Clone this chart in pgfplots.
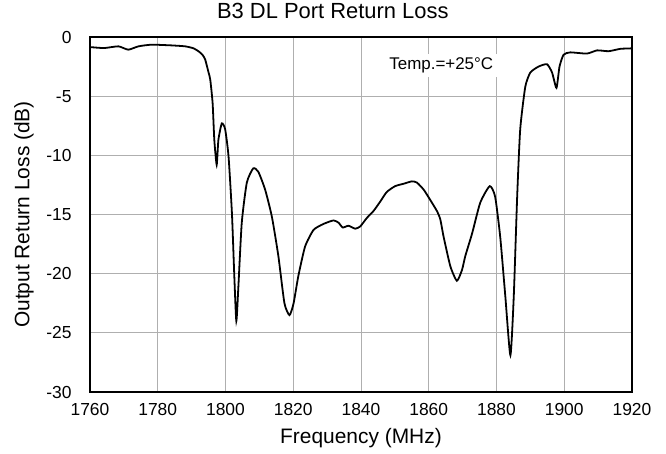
\documentclass[border=0pt]{standalone}
\usepackage{pgfplots}
\pgfplotsset{compat=1.18}
\usepackage{fontspec}
\setmainfont{Liberation Sans}
\pgfplotstableread{
x y
1760 -0.85
1762 -0.9
1764.4 -0.93
1768.4 -0.79
1771.3 -1.07
1774.3 -0.79
1778.2 -0.65
1784.1 -0.71
1788.1 -0.79
1790.5 -0.95
1792 -1.2
1793.2 -1.5
1794 -1.9
1795 -3.0
1795.5 -3.6
1796.2 -5.6
1796.7 -8.7
1797.4 -10.8
1797.9 -8.7
1798.9 -7.3
1799.9 -7.8
1800.9 -10.1
1801.9 -14.9
1802.6 -20.2
1803.2 -24.0
1803.8 -21.1
1804.8 -15.7
1806.3 -12.3
1808.2 -11.1
1809.7 -11.4
1811.7 -12.9
1813.7 -15.2
1815.6 -18.5
1817.4 -22.5
1818.9 -23.5
1820.1 -22.5
1821.5 -20.2
1823.5 -17.7
1826 -16.3
1828.9 -15.8
1831.9 -15.5
1833.4 -15.7
1834.6 -16.1
1836.3 -15.95
1838.3 -16.2
1839.8 -16.0
1841.7 -15.3
1843.7 -14.7
1845.7 -13.9
1847.6 -13.1
1850.1 -12.6
1852.6 -12.4
1855 -12.2
1856.5 -12.3
1858.5 -12.9
1860.4 -13.75
1862.4 -14.7
1863.4 -15.4
1864.4 -16.9
1866.4 -19.4
1868.3 -20.6
1869.8 -19.7
1870.8 -18.5
1872.8 -16.6
1875.2 -14.0
1878 -12.6
1879.6 -13.5
1881.1 -16.9
1882.6 -21.9
1884.1 -26.9
1885.1 -21.9
1886.1 -13.5
1887 -7.8
1888.5 -4.2
1890 -3.0
1892.4 -2.5
1894.9 -2.3
1896.4 -3.0
1897.7 -4.3
1898.6 -2.5
1899.8 -1.5
1901.8 -1.3
1906.7 -1.4
1909.7 -1.13
1913.1 -1.2
1916.6 -1.0
1920 -0.96
}\rldata
\definecolor{gridgray}{RGB}{175,175,175}
\begin{document}
\begin{tikzpicture}
\useasboundingbox (-90bp,-62bp) rectangle (576bp,392bp);
\begin{axis}[
  scale only axis,
  width=542bp, height=355bp,
  xmin=1760, xmax=1920, ymin=-30, ymax=0,
  xtick={1760,1780,...,1920}, ytick={-30,-25,...,0},
  major tick length=0pt,
  grid=major,
  grid style={gridgray, line width=1pt},
  axis line style={black, line width=1.4pt},
  /pgf/number format/assume math mode=true,
  /pgf/number format/1000 sep={},
  tick label style={font=\fontsize{17.5}{19}\selectfont},
  xticklabel style={yshift=-8bp},
  yticklabel style={xshift=-15bp},
  title={B3 DL Port Return Loss},
  title style={font=\fontsize{22}{24}\selectfont, at={(axis description cs:0.448,1)}, anchor=base, yshift=13bp},
  xlabel={Frequency (MHz)},
  ylabel={Output Return Loss (dB)},
  label style={font=\fontsize{21}{23}\selectfont},
  xlabel style={at={(axis description cs:0.5,-0.1296)}, anchor=center},
  ylabel style={at={(axis description cs:-0.122,0.5)}, anchor=center, rotate=0},
  clip=false,
]
\addplot[black, line width=1.8pt, smooth, tension=0.35] table[x=x,y=y] {\rldata};
\node[fill=white, inner sep=4bp, font=\fontsize{17}{19}\selectfont] at (axis cs:1863.7,-2.43) {Temp.=+25°C};
\end{axis}
\end{tikzpicture}
\end{document}
